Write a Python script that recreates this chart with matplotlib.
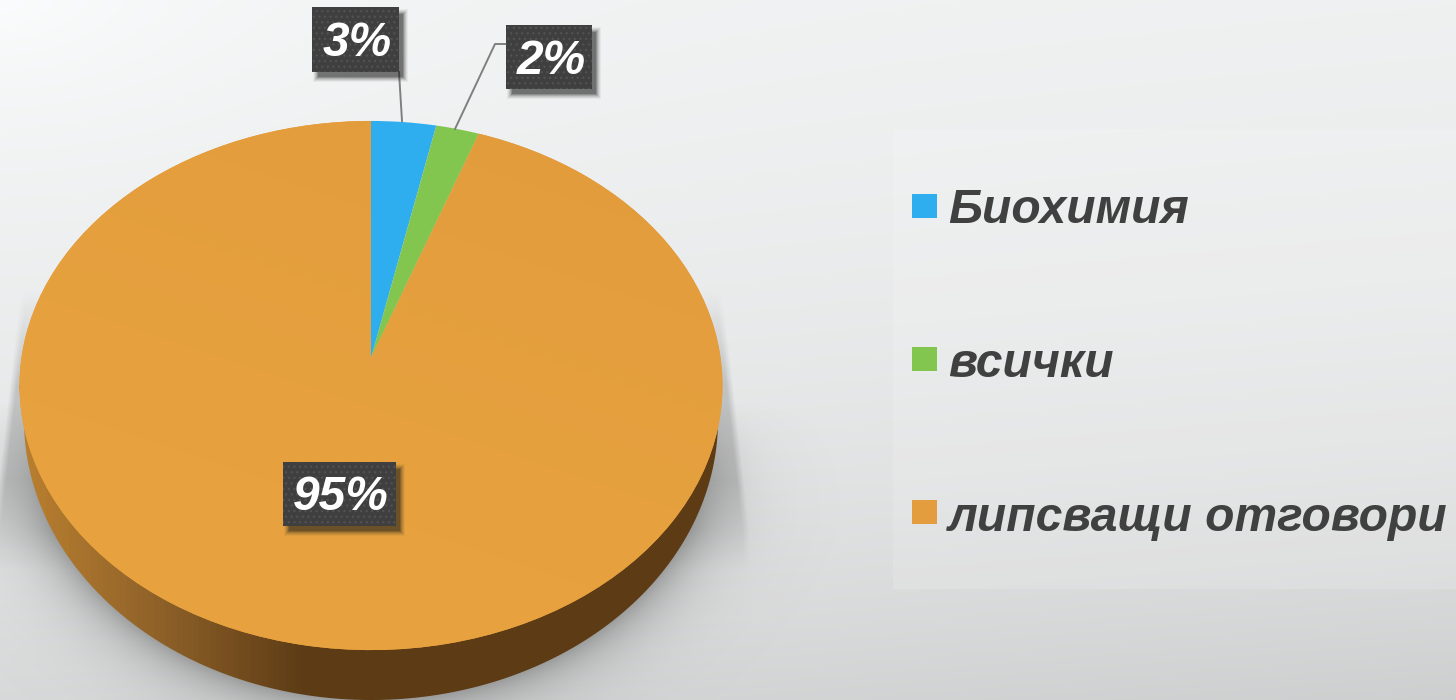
#!/usr/bin/env python3
"""Pie chart drawn in screen pixels, with a tilted top and a thick side wall."""

import numpy as np
import matplotlib
matplotlib.use("Agg")
import matplotlib.pyplot as plt
from matplotlib.colors import LinearSegmentedColormap
from matplotlib.patches import Polygon, Rectangle
from matplotlib.transforms import Transform, TransformedPatchPath

plt.rcParams["font.family"] = ["Liberation Sans", "DejaVu Sans"]
plt.rcParams["hatch.linewidth"] = 0.9

W, H = 1456, 700

categories = ["Биохимия", "всички", "липсващи отговори"]
values = [3.3, 2.2, 94.5]
percent_labels = ["3%", "2%", "95%"]
colors = ["#2FAEEF", "#82C650", "#E39D3E"]

TEXT_DARK = "#404040"
BOX_DARK = "#3F3F3F"
LEADER = "#7F7F7F"


class TiltTransform(Transform):
    """Unit circle -> pixels, a perspective view of the pie top."""
    input_dims = 2
    output_dims = 2

    def __init__(self, cx, cy, a, b, p):
        super().__init__()
        self.cx, self.cy, self.a, self.b, self.p = cx, cy, a, b, p

    def transform_non_affine(self, xy):
        xy = np.asarray(xy, dtype=float)
        w = 1 + self.p * xy[:, 1]
        return np.column_stack([self.cx + self.a * xy[:, 0] / w,
                                self.cy - self.b * xy[:, 1] / w])


def box_label(ax, x0, y0, x1, y1, text, tx, ty):
    # soft drop shadow, then the dotted box
    for grow, alpha in [(4, 0.05), (3, 0.08), (2, 0.10), (1, 0.14), (0, 0.20), (-1, 0.25)]:
        ax.add_patch(Rectangle((x0 + 5 - grow, y0 + 6 - grow),
                               x1 - x0 + 2 * grow, y1 - y0 + 2 * grow,
                               fc="#1C1C1C", ec="none", alpha=alpha, zorder=8))
    ax.add_patch(Rectangle((x0, y0), x1 - x0, y1 - y0, fc=BOX_DARK,
                           ec="#525252", lw=0, hatch="...", zorder=9))
    ax.text(tx, ty, text, color="white", fontsize=34.5, fontweight="bold",
            fontstyle="italic", ha="center", va="center", zorder=10)


def main():
    fig = plt.figure(figsize=(W / 100, H / 100), dpi=100)
    ax = fig.add_axes([0, 0, 1, 1])

    yy, xx = np.mgrid[0:H, 0:W]

    # page background
    t = np.clip(0.86 * yy / H + 0.14 * xx / W, 0, 1)
    corner = np.exp(-np.hypot(xx / 260.0, yy / 150.0))
    grey = 243 - 14 * t - 22 * t ** 3 + 10 * corner
    grey = np.clip(grey, 0, 255) / 255
    bg = np.dstack([grey * 0.992, grey * 0.998, grey])
    ax.imshow(bg, extent=(0, W, H, 0), zorder=0, interpolation="bilinear")

    # broad shadow behind the pie, a trapezoid with a fairly crisp outer side
    side = np.clip((yy - 290) / 240, 0, 1)
    half = 351 + 27 * side
    edge = np.clip((half - np.abs(xx - 371)) / 7, 0, 1)
    fade = np.clip(1 - (yy - 480) / 90, 0, 1)
    shade = np.zeros((H, W, 4))
    shade[..., :3] = 0.42
    shade[..., 3] = 0.30 * np.clip(side * 2.5, 0, 1) * fade * edge
    ax.imshow(shade, extent=(0, W, H, 0), zorder=1, interpolation="bilinear")

    # tight dark shadow around the lower edge of the wall
    rad = np.sqrt(((xx - 371) / 347.0) ** 2 + ((yy - 420) / 280.0) ** 2)
    dist = (rad - 1) * 310
    a2 = 0.47 * np.exp(-np.clip(dist, 0, None) / 26.0)
    a2 = a2 * np.clip((yy - 400) / 130, 0, 1)
    shade2 = np.zeros((H, W, 4))
    shade2[..., :3] = 0.36
    shade2[..., 3] = a2
    ax.imshow(shade2, extent=(0, W, H, 0), zorder=2, interpolation="bilinear")

    # side wall of the pie, a horizontal gradient clipped to the outline
    th = np.linspace(np.pi, 0, 240)
    wall_pts = np.column_stack([371 + 347 * np.cos(th), 420 + 280 * np.sin(th)])
    wall_pts = np.vstack([[19, 385], wall_pts, [722, 385]])
    wall_clip = Polygon(wall_pts, closed=True, transform=ax.transData, fc="none", ec="none")
    ax.add_patch(wall_clip)
    wall_cmap = LinearSegmentedColormap.from_list(
        "wall", [(0, "#BB8232"), (0.025, "#B57C2F"), (0.1, "#92642A"),
                 (0.21, "#5C3B15"), (1, "#5C3B15")])
    wall = ax.imshow(np.linspace(0, 1, W)[None, :], extent=(0, W, H, 0), cmap=wall_cmap,
                     aspect="auto", zorder=3)
    wall.set_clip_path(wall_clip)

    # pie top
    wedges, _ = ax.pie(values, colors=colors, startangle=90, counterclock=False)
    tilt = TiltTransform(371, 358, 349.6, 261.7, 0.104)
    for w in wedges:
        w.set_transform(tilt + ax.transData)
        w.set_zorder(4)
        w.set_edgecolor("none")
        w.set_clip_on(False)

    # the large slice is very slightly lighter towards its lower left
    glow_cmap = LinearSegmentedColormap.from_list("glow", ["#E29B3C", "#E7A23F"])
    glow_t = np.clip(0.5 + 1.3 * (yy / H - 0.35) - 0.9 * (xx / W - 0.25), 0, 1)
    glow = ax.imshow(glow_t, extent=(0, W, H, 0), cmap=glow_cmap, vmin=0, vmax=1,
                     aspect="auto", zorder=4.5)
    glow.set_clip_path(TransformedPatchPath(wedges[2]))

    # leader lines
    ax.plot([399, 402], [72, 121], color=LEADER, lw=1.4, zorder=7)
    ax.plot([506, 495, 455], [44, 44, 129], color=LEADER, lw=1.4, zorder=7)

    box_label(ax, 312, 7, 399, 72, percent_labels[0], 357, 43)
    box_label(ax, 506, 25, 592, 89, percent_labels[1], 551, 61)
    box_label(ax, 283, 462, 396, 526, percent_labels[2], 341, 497)

    # legend
    ax.add_patch(Rectangle((893, 129), W - 893, 460, fc="white", ec="none",
                           alpha=0.14, zorder=5))
    square_tops = [194, 347, 500]
    text_bases = [223, 377, 531]
    for name, col, top, base in zip(categories, colors, square_tops, text_bases):
        ax.add_patch(Rectangle((912, top), 25, 24, fc=col, ec="none", zorder=6))
        ax.text(948, base, name, color=TEXT_DARK, fontsize=34.6, fontweight="bold",
                fontstyle="italic", ha="left", va="baseline", zorder=6)

    ax.set_aspect("auto")
    ax.set_xlim(0, W)
    ax.set_ylim(H, 0)
    ax.axis("off")

    fig.savefig("out.png", dpi=100)


if __name__ == "__main__":
    main()
